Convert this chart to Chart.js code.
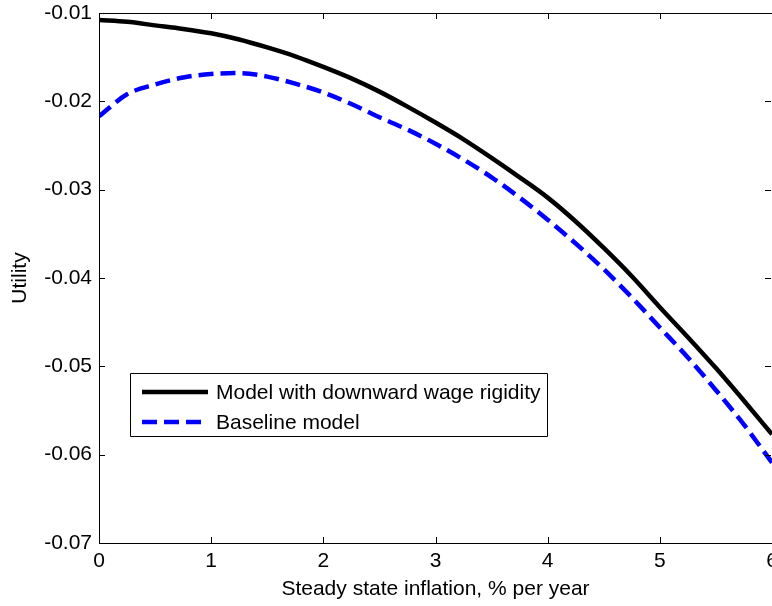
<!DOCTYPE html>
<html>
<head>
<meta charset="utf-8">
<script src="https://cdn.jsdelivr.net/npm/chart.js@4"></script>
<style>
  html, body { margin: 0; padding: 0; background: #fff; }
  #wrap { width: 772px; height: 606px; }
</style>
</head>
<body>
<div id="wrap"><canvas id="c" width="772" height="606"></canvas></div>
<script>
// Steady state inflation (% per year)
const inflation = [0, 0.25, 0.5, 0.75, 1, 1.25, 1.5, 1.75, 2, 2.25, 2.5, 2.75, 3, 3.25, 3.5, 3.75, 4, 4.25, 4.5, 4.75, 5, 5.25, 5.5, 5.75, 6];
// Model with downward wage rigidity
const rigidityUtility = [-0.0108, -0.0110, -0.0114, -0.0118, -0.0123, -0.0130, -0.0139, -0.0149, -0.0161, -0.0174, -0.0189, -0.0206, -0.0224, -0.0243, -0.0264, -0.0286, -0.0309, -0.0336, -0.0366, -0.0398, -0.0433, -0.0467, -0.0502, -0.0539, -0.0577];
// Baseline model
const baselineUtility = [-0.0217, -0.0192, -0.0181, -0.0173, -0.0169, -0.0168, -0.0172, -0.0180, -0.0190, -0.0203, -0.0218, -0.0232, -0.0248, -0.0266, -0.0286, -0.0309, -0.0334, -0.0361, -0.0390, -0.0422, -0.0456, -0.0490, -0.0527, -0.0566, -0.0609];
const seriesLabels = ['Model with downward wage rigidity', 'Baseline model'];
const xTickValues = [0, 1, 2, 3, 4, 5, 6];
const yTickValues = [-0.07, -0.06, -0.05, -0.04, -0.03, -0.02, -0.01];
const yTickLabels = ['-0.07', '-0.06', '-0.05', '-0.04', '-0.03', '-0.02', '-0.01'];
const xTitle = 'Steady state inflation, % per year';
const yTitle = 'Utility';

const FONT = '"Liberation Sans", Arial, Helvetica, sans-serif';
const FS = 21;

const toPoints = ys => inflation.map((x, i) => ({ x: x, y: ys[i] }));

const boxPlugin = {
  id: 'matlabBox',
  afterDatasetsDraw(chart) {
    const { ctx, chartArea: a, scales } = chart;
    ctx.save();
    ctx.strokeStyle = '#000';
    ctx.lineWidth = 1;
    ctx.beginPath();
    ctx.rect(Math.round(a.left) + 0.5, Math.round(a.top) + 0.5, Math.round(a.right - a.left), Math.round(a.bottom - a.top));
    ctx.stroke();
    const tl = 6;
    ctx.beginPath();
    xTickValues.forEach(v => {
      const px = Math.round(scales.x.getPixelForValue(v)) + 0.5;
      ctx.moveTo(px, a.bottom); ctx.lineTo(px, a.bottom - tl);
      ctx.moveTo(px, a.top); ctx.lineTo(px, a.top + tl);
    });
    yTickValues.forEach(v => {
      const py = Math.round(scales.y.getPixelForValue(v)) + 0.5;
      ctx.moveTo(a.left, py); ctx.lineTo(a.left + tl, py);
      ctx.moveTo(a.right - 1, py); ctx.lineTo(a.right - 1 - tl, py);
    });
    ctx.stroke();

    // legend
    const lx = a.left + 31, ly = a.top + 360, lw = 417, lh = 63;
    ctx.fillStyle = '#fff';
    ctx.fillRect(lx, ly, lw, lh);
    ctx.beginPath();
    ctx.rect(Math.round(lx) + 0.5, Math.round(ly) + 0.5, lw, lh);
    ctx.stroke();
    ctx.font = FS + 'px ' + FONT;
    ctx.textBaseline = 'middle';
    ctx.textAlign = 'left';
    chart.data.datasets.forEach((ds, i) => {
      const y = ly + 19 + i * 30;
      ctx.save();
      ctx.strokeStyle = ds.borderColor;
      ctx.lineWidth = ds.borderWidth;
      ctx.setLineDash(ds.borderDash || []);
      ctx.beginPath();
      ctx.moveTo(lx + 12, y);
      ctx.lineTo(lx + 78, y);
      ctx.stroke();
      ctx.restore();
      ctx.fillStyle = '#000';
      ctx.fillText(ds.label, lx + 86, y + 1);
    });
    ctx.restore();
  }
};

new Chart(document.getElementById('c'), {
  type: 'line',
  data: {
    datasets: [
      {
        label: seriesLabels[0],
        data: toPoints(rigidityUtility),
        borderColor: '#000000',
        borderWidth: 4.5,
        pointRadius: 0,
        fill: false,
        cubicInterpolationMode: 'monotone'
      },
      {
        label: seriesLabels[1],
        data: toPoints(baselineUtility),
        borderColor: '#0000ff',
        borderWidth: 4.5,
        borderDash: [15, 7],
        pointRadius: 0,
        fill: false,
        cubicInterpolationMode: 'monotone'
      }
    ]
  },
  options: {
    responsive: false,
    animation: false,
    devicePixelRatio: 1,
    layout: { autoPadding: false, padding: { top: 13, right: 0, left: 0, bottom: 0 } },
    plugins: { legend: { display: false }, tooltip: { enabled: false } },
    scales: {
      x: {
        type: 'linear',
        min: 0, max: 6,
        afterBuildTicks: s => { s.ticks = xTickValues.map(v => ({ value: v })); },
        afterFit: s => { s.height = 63; s.paddingLeft = 0; s.paddingRight = 0; },
        grid: { display: false, drawTicks: false },
        border: { display: false },
        ticks: {
          color: '#000',
          padding: 6,
          maxRotation: 0,
          autoSkip: false,
          font: { family: FONT, size: FS },
          callback: v => String(v)
        },
        title: {
          display: true,
          text: xTitle,
          color: '#000',
          font: { family: FONT, size: FS },
          padding: { top: 0, bottom: 4 }
        }
      },
      y: {
        type: 'linear',
        min: -0.07, max: -0.01,
        afterBuildTicks: s => { s.ticks = yTickValues.map(v => ({ value: v })); },
        afterFit: s => { s.width = 99; s.paddingTop = 0; s.paddingBottom = 0; },
        grid: { display: false, drawTicks: false },
        border: { display: false },
        ticks: {
          color: '#000',
          padding: 7,
          autoSkip: false,
          font: { family: FONT, size: FS },
          callback: (v, i) => yTickLabels[i]
        },
        title: {
          display: true,
          text: yTitle,
          color: '#000',
          font: { family: FONT, size: FS },
          padding: { top: 8, bottom: 0 }
        }
      }
    }
  },
  plugins: [boxPlugin]
});
</script>
</body>
</html>
